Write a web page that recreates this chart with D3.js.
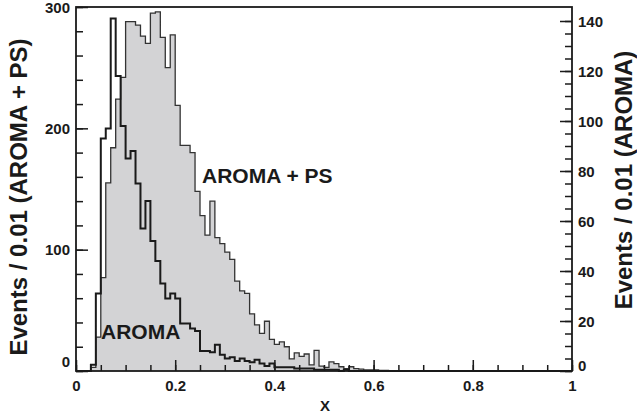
<!DOCTYPE html>
<html>
<head>
<script src="https://d3js.org/d3.v7.min.js"></script>
<style>
  body { margin: 0; background: #fff; }
  text { font-family: "Liberation Sans", Arial, sans-serif; font-weight: bold; fill: #1a1a1a; }
  .tick line { stroke: #1a1a1a; stroke-width: 1.5; }
  .domain { display: none; }
</style>
</head>
<body>
<svg id="chart" width="637" height="417"></svg>
<script>
// events per 0.01 bin, x from 0 to 1 (100 bins)
var aromaPS = [
  0, 0, 0, 3, 28, 77, 155, 184, 224, 242,
  288, 288, 285, 276, 270, 295, 296, 275, 250, 277,
  219, 186, 186, 180, 148, 128, 112, 140, 110, 105,
  98, 92, 74, 66, 64, 47, 38, 31, 41, 26,
  22, 24, 20, 10, 15, 12, 14, 5, 17, 4,
  3, 7.5, 6, 3.5, 2, 3.5, 2, 1.5, 1, 1,
  1, 0.5, 0.5, 0, 0, 0, 0, 0, 0, 0,
  0, 0, 0, 0, 0, 0, 0, 0, 0, 0,
  0, 0, 0, 0, 0, 0, 0, 0, 0, 0,
  0, 0, 0, 0, 0, 0, 0, 0, 0, 0
];
var aroma = [
  0, 0, 0, 2.5, 31, 93, 97, 141, 118, 98,
  85, 88, 75, 57, 68, 52, 44, 35, 29, 31,
  29, 19, 19, 17, 16, 8, 8, 7.5, 10.5, 6.5,
  5, 5.5, 4, 5, 4, 3.5, 4.5, 3, 2, 3,
  1.5, 1.5, 1.5, 1.5, 1, 1, 1, 1, 0.5, 0.5,
  0.5, 0.5, 0.5, 0, 0.5, 0, 0, 0, 0, 0,
  0, 0, 0, 0, 0, 0, 0, 0, 0, 0,
  0, 0, 0, 0, 0, 0, 0, 0, 0, 0,
  0, 0, 0, 0, 0, 0, 0, 0, 0, 0,
  0, 0, 0, 0, 0, 0, 0, 0, 0, 0
];
var binWidth = 0.01;
var xTicks = [0, 0.2, 0.4, 0.6, 0.8, 1];
var leftTicks = [0, 100, 200, 300];
var rightTicks = [0, 20, 40, 60, 80, 100, 120, 140];

var plot = {left: 76, right: 572, top: 7, bottom: 371};

var svg = d3.select("#chart");

var x = d3.scaleLinear().domain([0, 1]).range([plot.left, plot.right]);
var yL = d3.scaleLinear().domain([0, 300]).range([plot.bottom, plot.top]);
var yR = d3.scaleLinear().domain([0, 145.6]).range([plot.bottom, plot.top]);

// step points for a histogram: one point per bin start plus the closing edge
function steps(vals) {
  var pts = vals.map(function(v, i) { return {x: i * binWidth, v: v}; });
  pts.push({x: vals.length * binWidth, v: vals[vals.length - 1]});
  return pts;
}

var area = d3.area()
  .curve(d3.curveStepAfter)
  .x(function(d) { return x(d.x); })
  .y0(plot.bottom)
  .y1(function(d) { return yL(d.v); });

var lineL = d3.line()
  .curve(d3.curveStepAfter)
  .x(function(d) { return x(d.x); })
  .y(function(d) { return yL(d.v); });

var lineR = d3.line()
  .curve(d3.curveStepAfter)
  .x(function(d) { return x(d.x); })
  .y(function(d) { return yR(d.v); });

svg.append("path")
  .attr("d", area(steps(aromaPS)))
  .attr("fill", "#d3d3d5");

svg.append("path")
  .attr("d", lineL(steps(aromaPS)))
  .attr("fill", "none")
  .attr("stroke", "#333")
  .attr("stroke-width", 1.3);

svg.append("path")
  .attr("d", lineR(steps(aroma)))
  .attr("fill", "none")
  .attr("stroke", "#1a1a1a")
  .attr("stroke-width", 2);

// minor ticks
svg.append("g")
  .attr("transform", "translate(0," + plot.bottom + ")")
  .call(d3.axisBottom(x).tickValues(d3.range(0, 1.001, 0.05)).tickSize(-6).tickFormat(""));
svg.append("g")
  .attr("transform", "translate(" + plot.left + ",0)")
  .call(d3.axisLeft(yL).tickValues(d3.range(0, 301, 20)).tickSize(-7).tickFormat(""));
svg.append("g")
  .attr("transform", "translate(" + plot.right + ",0)")
  .call(d3.axisRight(yR).tickValues(d3.range(0, 141, 5)).tickSize(-7).tickFormat(""));

// major ticks + labels
var gx = svg.append("g")
  .attr("transform", "translate(0," + plot.bottom + ")")
  .call(d3.axisBottom(x).tickValues(xTicks).tickSize(-11).tickPadding(6)
    .tickFormat(function(d) { return d === 0 || d === 1 ? d : d3.format(".1f")(d); }));
gx.selectAll("text").attr("font-size", 15).attr("dy", "0.95em");

var gl = svg.append("g")
  .attr("transform", "translate(" + plot.left + ",0)")
  .call(d3.axisLeft(yL).tickValues(leftTicks).tickSize(-12).tickPadding(6));
gl.selectAll("text").attr("font-size", 15)
  .attr("dy", function(d) { return d === 0 ? "-0.3em" : "0.35em"; });

var gr = svg.append("g")
  .attr("transform", "translate(" + plot.right + ",0)")
  .call(d3.axisRight(yR).tickValues(rightTicks).tickSize(-12).tickPadding(6));
gr.selectAll("text").attr("font-size", 15)
  .attr("dy", function(d) { return d === 0 ? "-0.05em" : "0.35em"; });

svg.selectAll(".tick text").attr("fill", "#1a1a1a");

// frame
svg.append("rect")
  .attr("x", plot.left).attr("y", plot.top)
  .attr("width", plot.right - plot.left).attr("height", plot.bottom - plot.top)
  .attr("fill", "none").attr("stroke", "#1a1a1a").attr("stroke-width", 1.8);

// labels
svg.append("text")
  .attr("transform", "translate(27,197) rotate(-90)")
  .attr("text-anchor", "middle").attr("font-size", 24)
  .text("Events / 0.01 (AROMA + PS)");

svg.append("text")
  .attr("transform", "translate(632,180) rotate(-90)")
  .attr("text-anchor", "middle").attr("font-size", 24)
  .text("Events / 0.01 (AROMA)");

svg.append("text")
  .attr("x", 325).attr("y", 411)
  .attr("text-anchor", "middle").attr("font-size", 15)
  .text("X");

svg.append("text")
  .attr("x", 202).attr("y", 183)
  .attr("font-size", 21)
  .text("AROMA + PS");

svg.append("text")
  .attr("x", 101).attr("y", 339)
  .attr("font-size", 21)
  .text("AROMA");
</script>
</body>
</html>
